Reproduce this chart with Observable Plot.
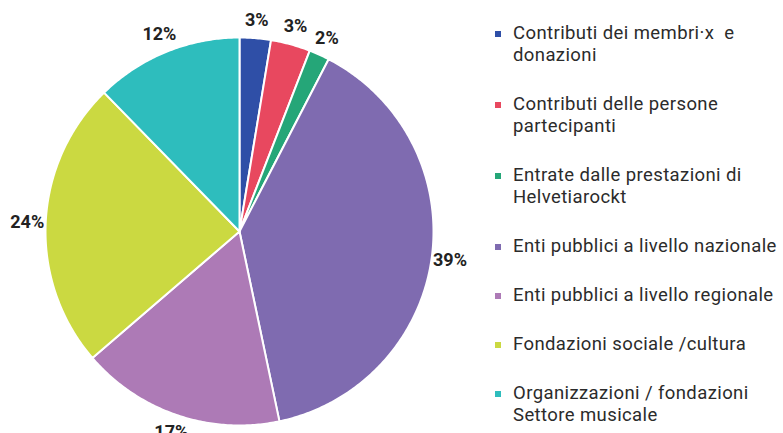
<!DOCTYPE html>
<html>
<head>
<meta charset="utf-8">
<script src="https://cdn.jsdelivr.net/npm/d3@7"></script>
<script src="https://cdn.jsdelivr.net/npm/@observablehq/plot@0.6"></script>
<style>
  html, body { margin: 0; padding: 0; background: #fff; }
  #wrap { position: relative; width: 783px; height: 433px; overflow: hidden; }
  #legend { position: absolute; left: 495px; top: 22px; display: flex; flex-direction: column; gap: 27px;
            font-family: Roboto, "Open Sans", sans-serif; font-size: 18.5px; letter-spacing: 0.4px; line-height: 22px; color: #2b2b2b; }
  .item { position: relative; padding-left: 18px; white-space: nowrap; }
  .sw { position: absolute; left: 0; top: 9px; width: 6px; height: 6px; }
</style>
</head>
<body>
<div id="wrap"><div id="chart"></div><div id="legend"></div></div>
<script>
const categories = [
  "Contributi dei membri·x  e donazioni",
  "Contributi delle persone partecipanti",
  "Entrate dalle prestazioni di Helvetiarockt",
  "Enti pubblici a livello nazionale",
  "Enti pubblici a livello regionale",
  "Fondazioni sociale /cultura",
  "Organizzazioni / fondazioni Settore musicale"
];
const legendLines = [
  ["Contributi dei membri·x\u00a0\u00a0e", "donazioni"],
  ["Contributi delle persone", "partecipanti"],
  ["Entrate dalle prestazioni di", "Helvetiarockt"],
  ["Enti pubblici a livello nazionale"],
  ["Enti pubblici a livello regionale"],
  ["Fondazioni sociale /cultura"],
  ["Organizzazioni / fondazioni", "Settore musicale"]
];
const values = [2.6, 3.3, 1.7, 39.1, 17.0, 24.0, 12.3];
const labels = ["3%", "3%", "2%", "39%", "17%", "24%", "12%"];
const colors = ["#2f4fa7", "#e8485f", "#25a678", "#7f6bb0", "#ad7ab6", "#cbd941", "#2ebdbd"];

const arcs = d3.pie().sort(null).value(d => d)(values);

const polys = arcs.map((a, i) => {
  const pts = [{x: 0, y: 0}];
  const n = Math.max(2, Math.ceil((a.endAngle - a.startAngle) / 0.01));
  for (let k = 0; k <= n; k++) {
    const t = a.startAngle + (a.endAngle - a.startAngle) * k / n;
    pts.push({x: Math.sin(t), y: Math.cos(t)});
  }
  pts.push({x: 0, y: 0});
  return {pts, color: colors[i]};
});

const R = 1.095;
const labelData = arcs.map((a, i) => {
  const m = (a.startAngle + a.endAngle) / 2;
  return {x: R * Math.sin(m), y: R * Math.cos(m), text: labels[i]};
});

const chart = Plot.plot({
  width: 783,
  height: 433,
  marginLeft: 45,
  marginRight: 350,
  marginTop: 37,
  marginBottom: 8,
  x: {domain: [-1, 1], axis: null},
  y: {domain: [-1, 1], axis: null},
  style: {background: "transparent", overflow: "visible"},
  marks: [
    ...polys.map(p => Plot.line(p.pts, {x: "x", y: "y", fill: p.color, stroke: "#fff", strokeWidth: 2, strokeLinejoin: "round", curve: "linear"})),
    Plot.text(labelData, {x: "x", y: "y", text: "text", fontSize: 18, fontWeight: "bold",
      fontFamily: "Roboto, sans-serif", fill: "#222",
      stroke: "#fff", strokeWidth: 3})
  ]
});
document.getElementById("chart").appendChild(chart);

const legend = document.getElementById("legend");
legendLines.forEach((lines, i) => {
  const it = document.createElement("div");
  it.className = "item";
  it.title = categories[i];
  const sw = document.createElement("span");
  sw.className = "sw";
  sw.style.background = colors[i];
  it.appendChild(sw);
  lines.forEach(l => {
    const d = document.createElement("div");
    d.textContent = l;
    it.appendChild(d);
  });
  legend.appendChild(it);
});
</script>
</body>
</html>
